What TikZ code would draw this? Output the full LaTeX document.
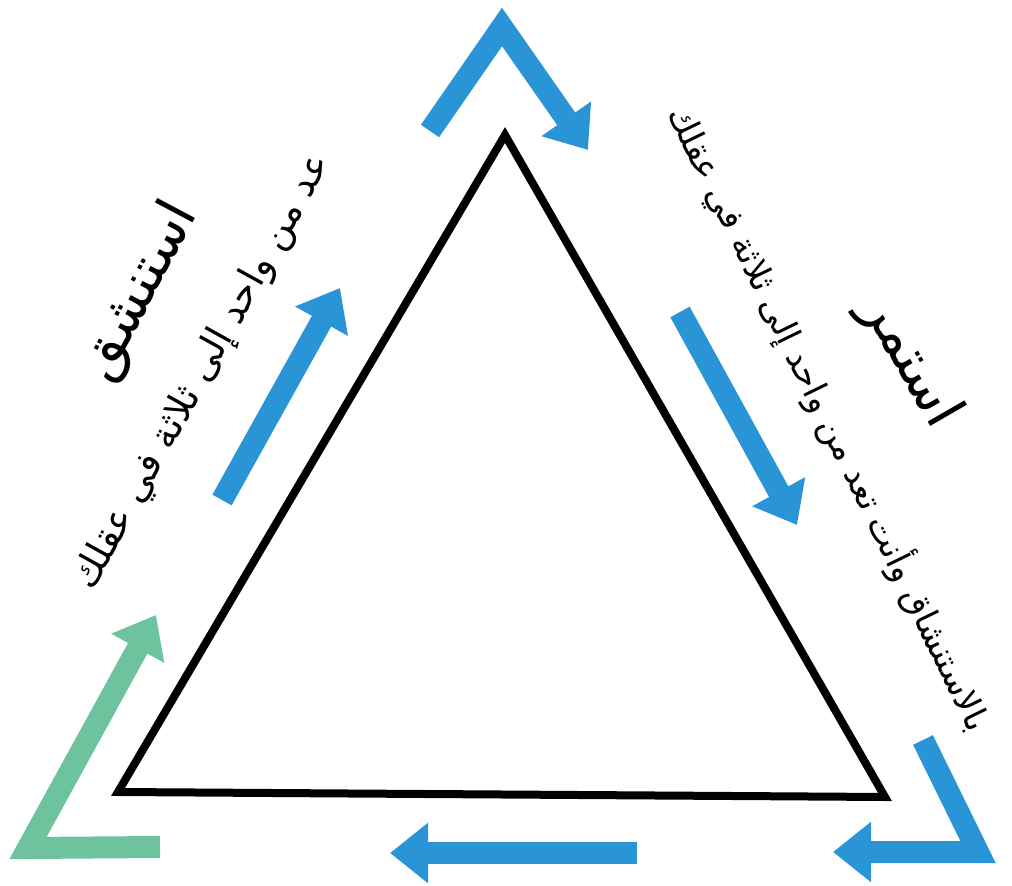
\documentclass[tikz,border=0pt]{standalone}
\usepackage{fontspec}
\newfontfamily\arabicfont[Script=Arabic]{DejaVu Sans}
\TeXXeTstate=1
\usetikzlibrary{arrows.meta}
\definecolor{brblue}{HTML}{2A95D6}
\definecolor{brgreen}{HTML}{6CC39E}

\begin{document}
\begin{tikzpicture}[x=0.5pt,y=-0.5pt,
  side/.style={line width=4pt,black,line join=miter},
  flow/.style={-{Triangle[length=19pt,width=29pt]},line width=11pt,brblue,line join=miter},
  flowg/.style={flow,brgreen},
  head/.style={font=\arabicfont\fontsize{28}{32}\selectfont,inner sep=0pt},
  note/.style={font=\arabicfont\fontsize{17}{20}\selectfont,inner sep=0pt}]
  \useasboundingbox (0,0) rectangle (1012,886);
  \coordinate (apex) at (505,135);
  \coordinate (bl) at (118,792);
  \coordinate (br) at (885,797);
  \draw[side] (apex) -- (bl) -- (br) -- cycle;
  \coordinate (t1) at (430,131); \coordinate (t2) at (502,27); \coordinate (t3) at (588,150);
  \coordinate (l1) at (222,500); \coordinate (l2) at (340,288);
  \coordinate (r1) at (680,312); \coordinate (r2) at (797,525);
  \coordinate (c1) at (923,740); \coordinate (c2) at (978,852); \coordinate (c3) at (833,852);
  \coordinate (b1) at (637,853); \coordinate (b2) at (390,853);
  \coordinate (g1) at (160,847); \coordinate (g2) at (28,848); \coordinate (g3) at (156,615);
  \draw[flow] (t1) -- (t2) -- (t3);
  \draw[flow] (l1) -- (l2);
  \draw[flow] (r1) -- (r2);
  \draw[flow] (c1) -- (c2) -- (c3);
  \draw[flow] (b1) -- (b2);
  \draw[flowg] (g1) -- (g2) -- (g3);
  \node[head,rotate=62] (inhale) at (140,292) {\beginR استنشق\endR};
  \node[note,rotate=61,font=\arabicfont\fontsize{19}{22}\selectfont] (count1) at (203,372) {\beginR عد من واحد إلى ثلاثة في عقلك\endR};
  \node[head,rotate=-60] (keep) at (910,362) {\beginR استمر\endR};
  \node[note,rotate=-64] (count2) at (830,418) {\beginR بالاستنشاق وأنت تعد من واحد إلى ثلاثة في عقلك\endR};
\end{tikzpicture}
\end{document}
